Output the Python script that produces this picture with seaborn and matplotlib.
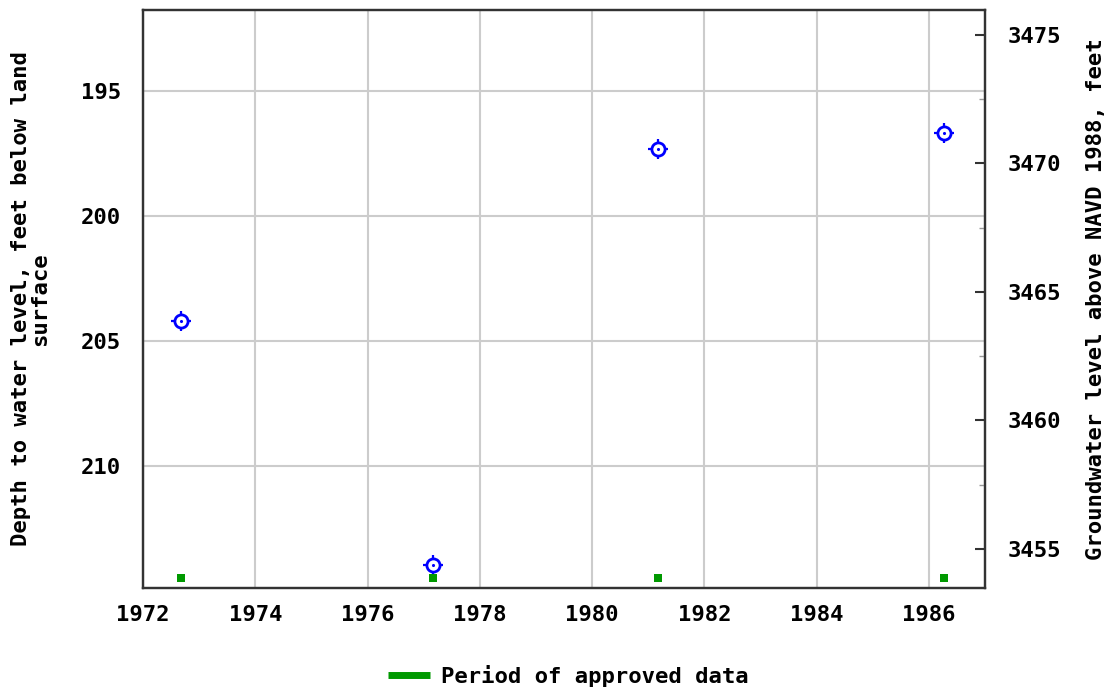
import numpy as np
import pandas as pd
import matplotlib
matplotlib.use('Agg')
import matplotlib.pyplot as plt
import seaborn as sns
from matplotlib.ticker import MultipleLocator

# Dane
years = [1972.68, 1977.16, 1981.18, 1986.27]
depth = [204.21, 213.97, 197.33, 196.69]
approved_years = [1972.68, 1977.16, 1981.18, 1986.27]
approved_level = [214.49, 214.49, 214.49, 214.49]

x_ticks = [1972, 1974, 1976, 1978, 1980, 1982, 1984, 1986]
left_ticks = [195, 200, 205, 210]
right_ticks = [3455, 3460, 3465, 3470, 3475]

df = pd.DataFrame({'Year': years, 'Depth': depth})
df_ok = pd.DataFrame({'Year': approved_years, 'Depth': approved_level})

sns.set_style('white')
plt.rcParams['font.family'] = ['DejaVu Sans Mono']
plt.rcParams['font.weight'] = 'bold'
plt.rcParams['text.color'] = 'black'
plt.rcParams['xtick.color'] = 'black'
plt.rcParams['ytick.color'] = 'black'
plt.rcParams['axes.labelcolor'] = 'black'
fs = 16

fig = plt.figure(figsize=(11.08, 6.91), dpi=100)
ax = fig.add_axes([143 / 1108, 1 - 588 / 691, 842 / 1108, 578 / 691])

# Punkty pomiarowe - kółko z krzyżykiem
sns.scatterplot(data=df, x='Year', y='Depth', ax=ax, marker='+', s=190,
                color='blue', linewidth=1.6, zorder=3, legend=False)
sns.scatterplot(data=df, x='Year', y='Depth', ax=ax, marker='o', s=90,
                facecolor='white', edgecolor='blue', linewidth=2.0, zorder=4, legend=False)
sns.scatterplot(data=df, x='Year', y='Depth', ax=ax, marker='o', s=5,
                color='blue', linewidth=0, zorder=5, legend=False)

# Okres zatwierdzonych danych
sns.scatterplot(data=df_ok, x='Year', y='Depth', ax=ax, marker='s', s=38,
                color='#009900', linewidth=0, zorder=3, legend=False)

ax.set_xlim(1972, 1987)
ax.set_ylim(214.89, 191.77)
ax.set_xticks(x_ticks)
ax.set_yticks(left_ticks)
ax.grid(True, color='#cccccc', linewidth=1.5)
ax.set_axisbelow(True)
for s in ax.spines.values():
    s.set_color('#333333')
    s.set_linewidth(1.6)
ax.tick_params(axis='x', labelsize=fs, length=0, pad=12)
ax.tick_params(axis='y', labelsize=fs, length=0, pad=16)
ax.set_xlabel('')
ax.set_ylabel('Depth to water level, feet below land\nsurface', fontsize=fs,
              fontweight='bold', labelpad=22, linespacing=0.95)

ax2 = ax.twinx()
ax2.set_ylim(3453.48, 3475.97)
ax2.set_yticks(right_ticks)
ax2.yaxis.set_minor_locator(MultipleLocator(2.5))
ax2.tick_params(axis='y', which='major', direction='in', length=7, width=1.5,
                labelsize=fs, pad=16, color='#333333')
ax2.tick_params(axis='y', which='minor', direction='in', length=4, width=1.0,
                color='#999999')
ax2.set_ylabel('Groundwater level above NAVD 1988, feet', fontsize=fs,
               fontweight='bold', labelpad=18)
for s in ax2.spines.values():
    s.set_color('#333333')
    s.set_linewidth(1.6)

# Legenda
handle = plt.Line2D([], [], color='#009900', linewidth=5, solid_capstyle='butt')
fig.legend([handle], ['Period of approved data'], loc='center',
           bbox_to_anchor=(568 / 1108, 1 - 676 / 691), frameon=False,
           fontsize=fs, handlelength=1.9, handletextpad=0.5)

plt.savefig('out.png', dpi=100)
